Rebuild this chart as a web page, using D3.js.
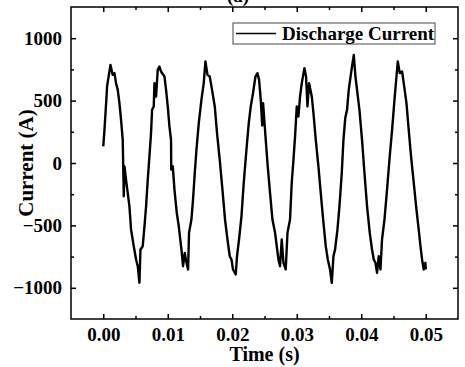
<!DOCTYPE html>
<html>
<head>
<meta charset="utf-8">
<script src="https://cdn.jsdelivr.net/npm/d3@7"></script>
<style>
  body { margin: 0; background: #fff; }
  text { font-family: "Liberation Serif", "Times New Roman", serif; font-weight: bold; }
</style>
</head>
<body>
<svg id="chart"></svg>
<script>
// Discharge current trace (time in s, current in A)
const time = [
  0.00000, 0.00019, 0.00054, 0.00059, 0.00112, 0.00147, 0.00174, 0.00198, 0.00225, 0.00251,
  0.00276, 0.00302, 0.00318, 0.00329, 0.00353, 0.00406, 0.00431, 0.00473, 0.00509, 0.00535,
  0.00561, 0.00577, 0.00612, 0.00639, 0.00664, 0.00690, 0.00716, 0.00741, 0.00757, 0.00783,
  0.00794, 0.00819, 0.00845, 0.00871, 0.00896, 0.00949, 0.00974, 0.01000, 0.01026, 0.01051,
  0.01054, 0.01078, 0.01104, 0.01140, 0.01171, 0.01212, 0.01237, 0.01264, 0.01290, 0.01315,
  0.01330, 0.01367, 0.01392, 0.01419, 0.01445, 0.01481, 0.01522, 0.01558, 0.01584, 0.01616,
  0.01651, 0.01687, 0.01729, 0.01764, 0.01806, 0.01848, 0.01888, 0.01926, 0.01961, 0.01988,
  0.02012, 0.02054, 0.02074, 0.02105, 0.02143, 0.02178, 0.02220, 0.02256, 0.02287, 0.02322,
  0.02360, 0.02391, 0.02416, 0.02442, 0.02465, 0.02478, 0.02519, 0.02550, 0.02586, 0.02623,
  0.02664, 0.02690, 0.02716, 0.02741, 0.02767, 0.02794, 0.02829, 0.02856, 0.02896, 0.02922,
  0.02949, 0.02974, 0.03000, 0.03026, 0.03051, 0.03078, 0.03119, 0.03144, 0.03166, 0.03191,
  0.03233, 0.03259, 0.03295, 0.03336, 0.03372, 0.03414, 0.03450, 0.03481, 0.03516, 0.03543,
  0.03569, 0.03594, 0.03631, 0.03662, 0.03698, 0.03724, 0.03752, 0.03780, 0.03806, 0.03842,
  0.03884, 0.03910, 0.03935, 0.03972, 0.04012, 0.04050, 0.04090, 0.04132, 0.04167, 0.04194,
  0.04220, 0.04245, 0.04271, 0.04298, 0.04322, 0.04360, 0.04400, 0.04437, 0.04478, 0.04515,
  0.04546, 0.04566, 0.04597, 0.04633, 0.04659, 0.04701, 0.04736, 0.04772, 0.04814, 0.04856,
  0.04891, 0.04918, 0.04943, 0.04969, 0.04995, 0.05000
];
const current = [
  133, 266, 560, 613, 786, 706, 720, 640, 586, 480,
  346, 186, -267, -27, -133, -347, -533, -667, -773, -827,
  -960, -693, -667, -507, -347, -133, 53, 240, 427, 453,
  640, 533, 746, 773, 733, 693, 586, 453, 293, 186,
  -53, -27, -213, -400, -507, -693, -827, -720, -800, -853,
  -560, -453, -293, -80, 106, 320, 506, 640, 813, 706,
  693, 586, 453, 240, 26, -213, -453, -613, -747, -773,
  -853, -893, -747, -613, -427, -160, 106, 320, 453, 560,
  693, 720, 666, 506, 300, 480, 186, -27, -240, -453,
  -560, -667, -773, -827, -613, -800, -853, -560, -453, -160,
  26, 213, 453, 373, 533, 640, 760, 693, 453, 640,
  533, 400, 186, -27, -240, -480, -667, -773, -853, -960,
  -747, -693, -533, -347, -80, 186, 360, 426, 586, 720,
  866, 693, 586, 426, 186, -80, -347, -560, -693, -773,
  -800, -880, -747, -853, -613, -453, -213, 26, 266, 506,
  693, 813, 720, 733, 640, 480, 266, 53, -160, -373,
  -533, -667, -773, -853, -800, -853
];

const xTicks = [0.00, 0.01, 0.02, 0.03, 0.04, 0.05];
const xMinorTicks = [0.005, 0.015, 0.025, 0.035, 0.045];
const yTicks = [-1000, -500, 0, 500, 1000];
const yMinorTicks = [-750, -250, 250, 750];
const seriesName = "Discharge Current";

const W = 465, H = 367;
const margin = { top: 7, right: 7, bottom: 48, left: 71 },
    width = W - margin.left - margin.right,
    height = H - margin.top - margin.bottom;

const svg = d3.select("#chart")
    .attr("width", W)
    .attr("height", H);

const g = svg.append("g")
    .attr("transform", `translate(${margin.left},${margin.top})`);

const x = d3.scaleLinear().domain([-0.005, 0.055]).range([0, width]);
const y = d3.scaleLinear().domain([-1250, 1250]).range([height, 0]);

const data = time.map((t, i) => ({ t, v: current[i] }));

// title, mostly cut off at the top edge (as in the original)
svg.append("text")
    .attr("x", 238)
    .attr("y", 2)
    .attr("text-anchor", "middle")
    .attr("font-size", 19)
    .text("(a)");

// trace
g.append("path")
    .datum(data)
    .attr("fill", "none")
    .attr("stroke", "#000")
    .attr("stroke-width", 2.4)
    .attr("stroke-linejoin", "round")
    .attr("d", d3.line().x(d => x(d.t)).y(d => y(d.v)));

// axes, ticks pointing inward
const fmtX = d3.format(".2f");
const fmtY = d3.format("d");
function styleAxis(sel) {
    sel.select(".domain").remove();
    sel.selectAll(".tick line").attr("stroke", "#000").attr("stroke-width", 1.5);
    sel.selectAll(".tick text").attr("font-size", 19).attr("fill", "#000")
        .style("font-family", "'Liberation Serif', 'Times New Roman', serif").style("font-weight", "bold");
}

g.append("g")
    .attr("transform", `translate(0,${height})`)
    .call(d3.axisBottom(x).tickValues(xTicks).tickFormat(fmtX).tickSizeInner(-5).tickSizeOuter(0).tickPadding(9))
    .call(styleAxis);
g.append("g")
    .attr("transform", `translate(0,${height})`)
    .call(d3.axisBottom(x).tickValues(xMinorTicks).tickFormat("").tickSizeInner(-3).tickSizeOuter(0))
    .call(styleAxis);
g.append("g")
    .call(d3.axisTop(x).tickValues(xTicks).tickFormat("").tickSizeInner(-5).tickSizeOuter(0))
    .call(styleAxis);
g.append("g")
    .call(d3.axisTop(x).tickValues(xMinorTicks).tickFormat("").tickSizeInner(-3).tickSizeOuter(0))
    .call(styleAxis);

g.append("g")
    .call(d3.axisLeft(y).tickValues(yTicks).tickFormat(fmtY).tickSizeInner(-5).tickSizeOuter(0).tickPadding(9))
    .call(styleAxis);
g.append("g")
    .call(d3.axisLeft(y).tickValues(yMinorTicks).tickFormat("").tickSizeInner(-3).tickSizeOuter(0))
    .call(styleAxis);
g.append("g")
    .attr("transform", `translate(${width},0)`)
    .call(d3.axisRight(y).tickValues(yTicks).tickFormat("").tickSizeInner(-5).tickSizeOuter(0))
    .call(styleAxis);
g.append("g")
    .attr("transform", `translate(${width},0)`)
    .call(d3.axisRight(y).tickValues(yMinorTicks).tickFormat("").tickSizeInner(-3).tickSizeOuter(0))
    .call(styleAxis);

// frame
g.append("rect")
    .attr("width", width)
    .attr("height", height)
    .attr("fill", "none")
    .attr("stroke", "#000")
    .attr("stroke-width", 1.5);

// axis labels
g.append("text")
    .attr("x", width / 2)
    .attr("y", height + 42)
    .attr("text-anchor", "middle")
    .attr("font-size", 20)
    .text("Time (s)");

g.append("text")
    .attr("transform", "rotate(-90)")
    .attr("x", -height / 2)
    .attr("y", -38)
    .attr("text-anchor", "middle")
    .attr("font-size", 21)
    .text("Current (A)");

// legend
const legend = svg.append("g").attr("transform", "translate(233,23)");
legend.append("rect")
    .attr("width", 202)
    .attr("height", 21)
    .attr("fill", "#fff")
    .attr("stroke", "#666")
    .attr("stroke-width", 1.2);
legend.append("line")
    .attr("x1", 3).attr("x2", 43)
    .attr("y1", 10.5).attr("y2", 10.5)
    .attr("stroke", "#000")
    .attr("stroke-width", 1.5);
legend.append("text")
    .attr("x", 49)
    .attr("y", 17)
    .attr("font-size", 19)
    .text(seriesName);
</script>
</body>
</html>
